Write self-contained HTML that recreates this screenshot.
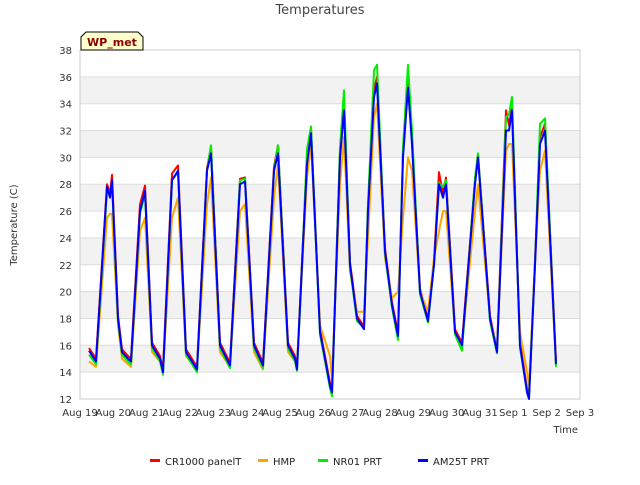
<!DOCTYPE html>
<html><head><meta charset="utf-8"><style>
body{margin:0;background:#fff;font-family:"Liberation Sans",sans-serif}
svg text{font-family:"DejaVu Sans","Liberation Sans",sans-serif}
</style></head><body>
<svg width="640" height="480" xmlns="http://www.w3.org/2000/svg">
<g id="bands"></g>
<g id="grid"></g>
<rect x="80" y="50" width="500" height="349" fill="none" stroke="#ccc"/>
<g id="yt"></g>
<g id="xt"></g>
<g id="series"></g>
<text x="320" y="14" text-anchor="middle" font-size="13" fill="#444">Temperatures</text>
<text x="17" y="225" text-anchor="middle" font-size="10" fill="#333" transform="rotate(-90 17 225)">Temperature (C)</text>
<text x="578" y="433" text-anchor="end" font-size="10" fill="#333">Time</text>
<g>
<path d="M81,50 L81,37 L86,32 L138,32 L143,37 L143,50 Z" fill="#ffffcc" stroke="#000"/>
<text x="112" y="46" text-anchor="middle" font-size="11" font-weight="bold" fill="#8b0000">WP_met</text>
</g>
<g id="legend"></g>
</svg>
<script>
const times=[0.27,0.48,0.81,0.90,0.96,1.14,1.26,1.44,1.53,1.80,1.95,2.16,2.40,2.49,2.76,2.94,3.18,3.51,3.81,3.93,4.20,4.50,4.80,4.95,5.22,5.49,5.82,5.94,6.24,6.45,6.51,6.66,6.81,6.93,7.20,7.50,7.56,7.80,7.92,8.10,8.31,8.52,8.64,8.82,8.91,9.15,9.36,9.54,9.69,9.84,9.96,10.20,10.44,10.62,10.77,10.89,10.98,11.25,11.46,11.85,11.94,12.30,12.51,12.78,12.87,12.96,13.20,13.41,13.47,13.65,13.80,13.95,14.28];
const blue=[15.6,14.8,27.8,27,28.3,18,15.5,15,14.8,26,27.5,16,15,14,28.3,29,15.5,14.2,29,30.3,16,14.5,28,28.2,16,14.5,29,30.3,16,15,14.2,22,29.5,31.8,17,13,12.5,30,33.5,22,18,17.2,26,34.5,35.5,23,19,16.7,30,35.2,31,20,17.8,22,28,27,28,17,16,28,30,18,15.5,32,32,33.5,16,12.5,12,22,31,32,14.6];
const red=[15.8,15,28,27.3,28.7,18.2,15.7,15.2,15,26.5,27.9,16.2,15.2,14.2,28.8,29.4,15.7,14.4,29.2,30.8,16.2,14.7,28.4,28.5,16.2,14.7,29.3,30.9,16.2,15.2,14.4,22.2,30,32.2,17.2,13.2,12.7,30.4,33.8,22.2,18.2,17.4,26.3,35,36,23.2,19.2,16.9,30.4,36.2,31.2,20.2,18,22.3,28.9,27.3,28.5,17.2,16.2,28.3,30.2,18.2,15.7,33.5,32.4,33.8,16.2,12.8,12.3,22.3,31.5,32.5,14.8];
const green=[15.3,14.6,27.5,27.3,28,17.8,15.3,14.8,14.6,25.8,27.3,15.8,14.8,13.8,28.3,28.9,15.3,14,29,30.9,15.8,14.3,28.3,28.4,15.8,14.3,29,30.9,15.8,14.8,14.1,22,30.6,32.3,16.8,12.8,12.2,30.7,35,21.8,17.8,17.3,26.5,36.5,36.9,22.8,18.8,16.4,30.7,36.9,32,19.8,17.7,22,28.1,27.8,28.3,16.8,15.6,28.5,30.3,17.8,15.4,33,33.2,34.5,15.8,12.6,12.2,22,32.5,32.9,14.4];
const orange=[14.8,14.4,25.5,25.8,25.8,17.5,15,14.6,14.4,24.5,25.5,15.5,14.8,14,25.5,27,15.2,14.2,26.5,28.5,15.5,14.4,26,26.5,15.5,14.2,27,29.5,15.5,14.8,14.3,21.5,28.5,31,17.5,15.2,13.5,28,31.5,21.5,18.5,18.5,24,33,34,22.5,19.5,20,25.5,30,29,20,18.5,22.5,24.5,26,26,17,16,26,28,18,15.8,30.5,31,31,17,14,13,22,29,30.5,14.5];
const yTicks=[12,14,16,18,20,22,24,26,28,30,32,34,36,38];
const xLabels=["Aug 19","Aug 20","Aug 21","Aug 22","Aug 23","Aug 24","Aug 25","Aug 26","Aug 27","Aug 28","Aug 29","Aug 30","Aug 31","Sep 1","Sep 2","Sep 3"];
const seriesNames=["CR1000 panelT","HMP","NR01 PRT","AM25T PRT"];
const NS="http://www.w3.org/2000/svg";
const X=d=>80+d*500/15, Y=v=>399-(v-12)*349/26;
function mk(t,a,p){const e=document.createElementNS(NS,t);for(const k in a)e.setAttribute(k,a[k]);p.appendChild(e);return e;}
const bands=document.getElementById('bands'),grid=document.getElementById('grid'),yt=document.getElementById('yt'),xt=document.getElementById('xt');
for(let i=0;i<yTicks.length-1;i++){if(i%2==1){const r=mk('rect',{x:80,y:Y(yTicks[i+1]),width:500,height:Y(yTicks[i])-Y(yTicks[i+1]),fill:'#f2f2f2'},bands);

}}
yTicks.forEach(v=>{const l=mk('line',{x1:80,x2:580,y1:Y(v),y2:Y(v),stroke:'#ddd'},grid);


const t=mk('text',{x:72,y:Y(v)+4,'text-anchor':'end','font-size':10,fill:'#333'},yt);t.textContent=v;

});
xLabels.forEach((s,i)=>{const t=mk('text',{x:X(i),y:416,'text-anchor':'middle','font-size':10,fill:'#333'},xt);t.textContent=s;

});
const sg=document.getElementById('series');
const cols=['#ff0000','#ffa500','#00ee00','#0000ff'];
[red,orange,green,blue].forEach((arr,k)=>{const p=mk('polyline',{points:times.map((t,i)=>X(t)+','+Y(arr[i])).join(' '),fill:'none',stroke:cols[k],'stroke-width':2,'stroke-linejoin':'round'},sg);

});
const lg=document.getElementById('legend');const lx=[150,258,318,418];
seriesNames.forEach((n,k)=>{const g=mk('g',{},lg);


mk('rect',{x:lx[k],y:459,width:10,height:3,fill:cols[k]},g);
const t=mk('text',{x:lx[k]+15,y:465,'font-size':10,fill:'#222'},g);t.textContent=n;});
</script>
</body></html>
